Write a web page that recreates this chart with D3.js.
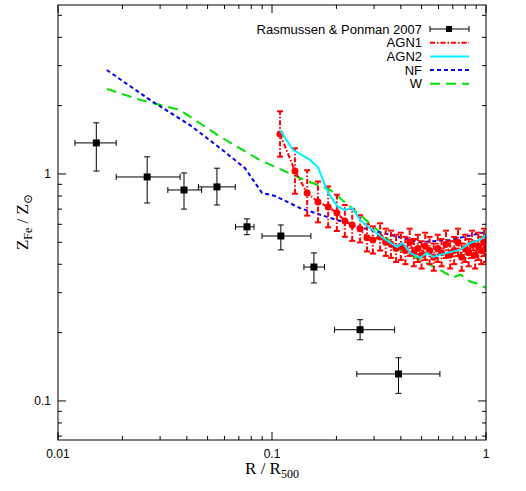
<!DOCTYPE html><html><head><script src="https://cdn.jsdelivr.net/npm/d3@7"></script>
<style>body{margin:0;background:#fff}text{font-family:"Liberation Sans",Arial,sans-serif}</style></head><body>
<svg id="c" width="526" height="491"></svg>
<script>
// Rasmussen & Ponman 2007
const rpX=[0.0151,0.0261,0.0388,0.0553,0.0764,0.110,0.157,0.258,0.39];
const rpXlo=[0.0120,0.0187,0.0326,0.0453,0.0675,0.0898,0.141,0.196,0.249];
const rpXhi=[0.0187,0.0372,0.0469,0.0673,0.0824,0.152,0.176,0.374,0.609];
const rpY=[1.37,0.97,0.85,0.877,0.585,0.533,0.389,0.206,0.1315];
const rpYlo=[1.03,0.745,0.70,0.73,0.54,0.463,0.331,0.186,0.108];
const rpYhi=[1.68,1.19,1.01,1.06,0.634,0.596,0.449,0.228,0.155];
// NF
const nfX=[0.0169,0.0269,0.0414,0.0572,0.0748,0.0898,0.1033,0.135,0.187,0.287,0.492,0.679,1];
const nfY=[2.87,2.12,1.64,1.30,1.06,0.825,0.80,0.708,0.640,0.567,0.501,0.512,0.555];
// W
const wX=[0.0169,0.0242,0.0372,0.0572,0.0879,0.135,0.187,0.258,0.397,0.610,0.70,0.76,0.842,0.90,1];
const wY=[2.37,2.12,1.91,1.46,1.15,0.96,0.85,0.66,0.463,0.378,0.35,0.36,0.336,0.33,0.315];
// AGN2
const a2X=[0.109,0.125,0.151,0.164,0.183,0.203,0.219,0.237,0.258,0.287,0.330,0.384,0.409,0.442,0.492,0.530,0.565,0.658,0.756,0.842,0.937,1];
const a2Y=[1.56,1.28,1.15,1.07,0.825,0.716,0.694,0.708,0.627,0.578,0.522,0.477,0.497,0.449,0.427,0.449,0.431,0.449,0.463,0.497,0.512,0.539];
// AGN1
const a1X=[0.109,0.128,0.146,0.164,0.183,0.201,0.219,0.237,0.258,0.278,0.296,0.320,0.340,0.360,0.380,0.400,0.420,0.440,0.460,0.480,0.500,0.520,0.545,0.570,0.595,0.620,0.650,0.680,0.710,0.740,0.770,0.800,0.830,0.860,0.890,0.920,0.950,0.980,1.0];
const a1Y=[1.50,1.03,0.825,0.753,0.716,0.674,0.621,0.596,0.573,0.523,0.512,0.528,0.50,0.49,0.47,0.48,0.46,0.50,0.45,0.47,0.44,0.48,0.46,0.43,0.47,0.45,0.49,0.44,0.46,0.50,0.43,0.47,0.45,0.49,0.44,0.48,0.46,0.50,0.47];
const a1E=[0.10,0.10,0.10,0.09,0.09,0.08,0.07,0.07,0.06,0.06,0.06,0.06,0.06,0.06,0.06,0.06,0.06,0.06,0.06,0.06,0.06,0.06,0.06,0.06,0.06,0.06,0.06,0.06,0.06,0.06,0.06,0.06,0.06,0.06,0.06,0.06,0.06,0.06,0.06];
const xTicks=[0.01,0.1,1], yTicks=[0.1,1];

const svg=d3.select("#c"), L=58,R=486,T=5,B=440;
const x=d3.scaleLog().domain([0.01,1]).range([L,R]);
const y=d3.scaleLog().domain([0.0673,5.55]).range([B,T]);
const g=svg.append("g");
const minorX=[],minorY=[];
for(const d of [0.01,0.1]) for(let k=1;k<10;k++) minorX.push(d*k);
minorX.push(1);
for(const d of [0.01,0.1,1]) for(let k=1;k<10;k++){const v=d*k; if(v>=0.0673&&v<=5.55) minorY.push(v);}
minorX.forEach(v=>{const maj=xTicks.some(t=>Math.abs(t-v)<1e-9),l=maj?8:4;
 g.append("line").attr("x1",x(v)).attr("x2",x(v)).attr("y1",B).attr("y2",B-l).attr("stroke","#000");
 g.append("line").attr("x1",x(v)).attr("x2",x(v)).attr("y1",T).attr("y2",T+l).attr("stroke","#000");});
minorY.forEach(v=>{const maj=yTicks.some(t=>Math.abs(t-v)<1e-9),l=maj?8:4;
 g.append("line").attr("y1",y(v)).attr("y2",y(v)).attr("x1",L).attr("x2",L+l).attr("stroke","#000");
 g.append("line").attr("y1",y(v)).attr("y2",y(v)).attr("x1",R).attr("x2",R-l).attr("stroke","#000");});
xTicks.forEach(v=>g.append("text").attr("x",x(v)).attr("y",B+18).attr("text-anchor","middle").attr("font-size",12).text(v));
yTicks.forEach(v=>g.append("text").attr("x",L-7).attr("y",y(v)+4).attr("text-anchor","end").attr("font-size",12).text(v));

svg.append("clipPath").attr("id","cp").append("rect").attr("x",L).attr("y",T).attr("width",R-L).attr("height",B-T);
const p=svg.append("g").attr("clip-path","url(#cp)");
const line=d3.line().x(d=>x(d[0])).y(d=>y(d[1]));
p.append("path").attr("d",line(d3.zip(wX,wY))).attr("fill","none").attr("stroke","#00e000").attr("stroke-width",2).attr("stroke-dasharray","10,6");
p.append("path").attr("d",line(d3.zip(nfX,nfY))).attr("fill","none").attr("stroke","#0000ee").attr("stroke-width",2).attr("stroke-dasharray","4,3");
a1X.forEach((v,i)=>{const lo=a1Y[i]/Math.pow(10,a1E[i]),hi=a1Y[i]*Math.pow(10,a1E[i]);
 p.append("line").attr("x1",x(v)).attr("x2",x(v)).attr("y1",y(lo)).attr("y2",y(hi)).attr("stroke","red").attr("stroke-width",2).attr("stroke-dasharray","5,2,1.5,2");
 [lo,hi].forEach(e=>p.append("line").attr("x1",x(v)-3).attr("x2",x(v)+3).attr("y1",y(e)).attr("y2",y(e)).attr("stroke","red").attr("stroke-width",2));});
p.append("path").attr("d",line(d3.zip(a1X,a1Y))).attr("fill","none").attr("stroke","red").attr("stroke-width",2).attr("stroke-dasharray","5,2,1.5,2");
a1X.forEach((v,i)=>p.append("circle").attr("cx",x(v)).attr("cy",y(a1Y[i])).attr("r",3.5).attr("fill","red"));
p.append("path").attr("d",line(d3.zip(a2X,a2Y))).attr("fill","none").attr("stroke","#00f0ff").attr("stroke-width",2);
rpX.forEach((v,i)=>{const s="#000";
 p.append("line").attr("x1",x(rpXlo[i])).attr("x2",x(rpXhi[i])).attr("y1",y(rpY[i])).attr("y2",y(rpY[i])).attr("stroke",s);
 p.append("line").attr("x1",x(v)).attr("x2",x(v)).attr("y1",y(rpYlo[i])).attr("y2",y(rpYhi[i])).attr("stroke",s);
 [rpXlo[i],rpXhi[i]].forEach(e=>p.append("line").attr("x1",x(e)).attr("x2",x(e)).attr("y1",y(rpY[i])-3).attr("y2",y(rpY[i])+3).attr("stroke",s));
 [rpYlo[i],rpYhi[i]].forEach(e=>p.append("line").attr("x1",x(v)-3).attr("x2",x(v)+3).attr("y1",y(e)).attr("y2",y(e)).attr("stroke",s));
 p.append("rect").attr("x",x(v)-3.5).attr("y",y(rpY[i])-3.5).attr("width",7).attr("height",7).attr("fill","#000");});
svg.append("rect").attr("x",L).attr("y",T).attr("width",R-L).attr("height",B-T).attr("fill","none").attr("stroke","#000");
const leg=[["Rasmussen & Ponman 2007","rp"],["AGN1","red"],["AGN2","#00f0ff"],["NF","#0000ee"],["W","#00e000"]];
const dash={"red":"5,2,1.5,2","#00f0ff":null,"#0000ee":"4,3","#00e000":"10,6"};
leg.forEach((d,i)=>{const yy=29+i*13.7;
 svg.append("text").attr("x",422).attr("y",yy+4.5).attr("text-anchor","end").attr("font-size",13).text(d[0]);
 if(d[1]==="rp"){svg.append("line").attr("x1",430).attr("x2",469).attr("y1",yy).attr("y2",yy).attr("stroke","#000");
  [430,469].forEach(e=>svg.append("line").attr("x1",e).attr("x2",e).attr("y1",yy-3).attr("y2",yy+3).attr("stroke","#000"));
  svg.append("rect").attr("x",446).attr("y",yy-3).attr("width",6).attr("height",6);}
 else svg.append("line").attr("x1",430).attr("x2",469).attr("y1",yy).attr("y2",yy).attr("stroke",d[1]).attr("stroke-width",2).attr("stroke-dasharray",dash[d[1]]);});
const serif="font-family:'Liberation Serif','DejaVu Serif',serif";
const yl=svg.append("text").attr("transform","translate(28,222) rotate(-90)").attr("text-anchor","middle").attr("font-size",17).attr("style",serif);
yl.append("tspan").text("Z");yl.append("tspan").attr("font-size",12).attr("dy",4).text("Fe");
yl.append("tspan").attr("dy",-4).text(" / Z");yl.append("tspan").attr("font-size",12).attr("dy",4).text("\u2299");
const xl=svg.append("text").attr("x",272).attr("y",474).attr("text-anchor","middle").attr("font-size",17).attr("style",serif);
xl.append("tspan").text("R / R");xl.append("tspan").attr("font-size",12).attr("dy",4).text("500");
</script></body></html>
